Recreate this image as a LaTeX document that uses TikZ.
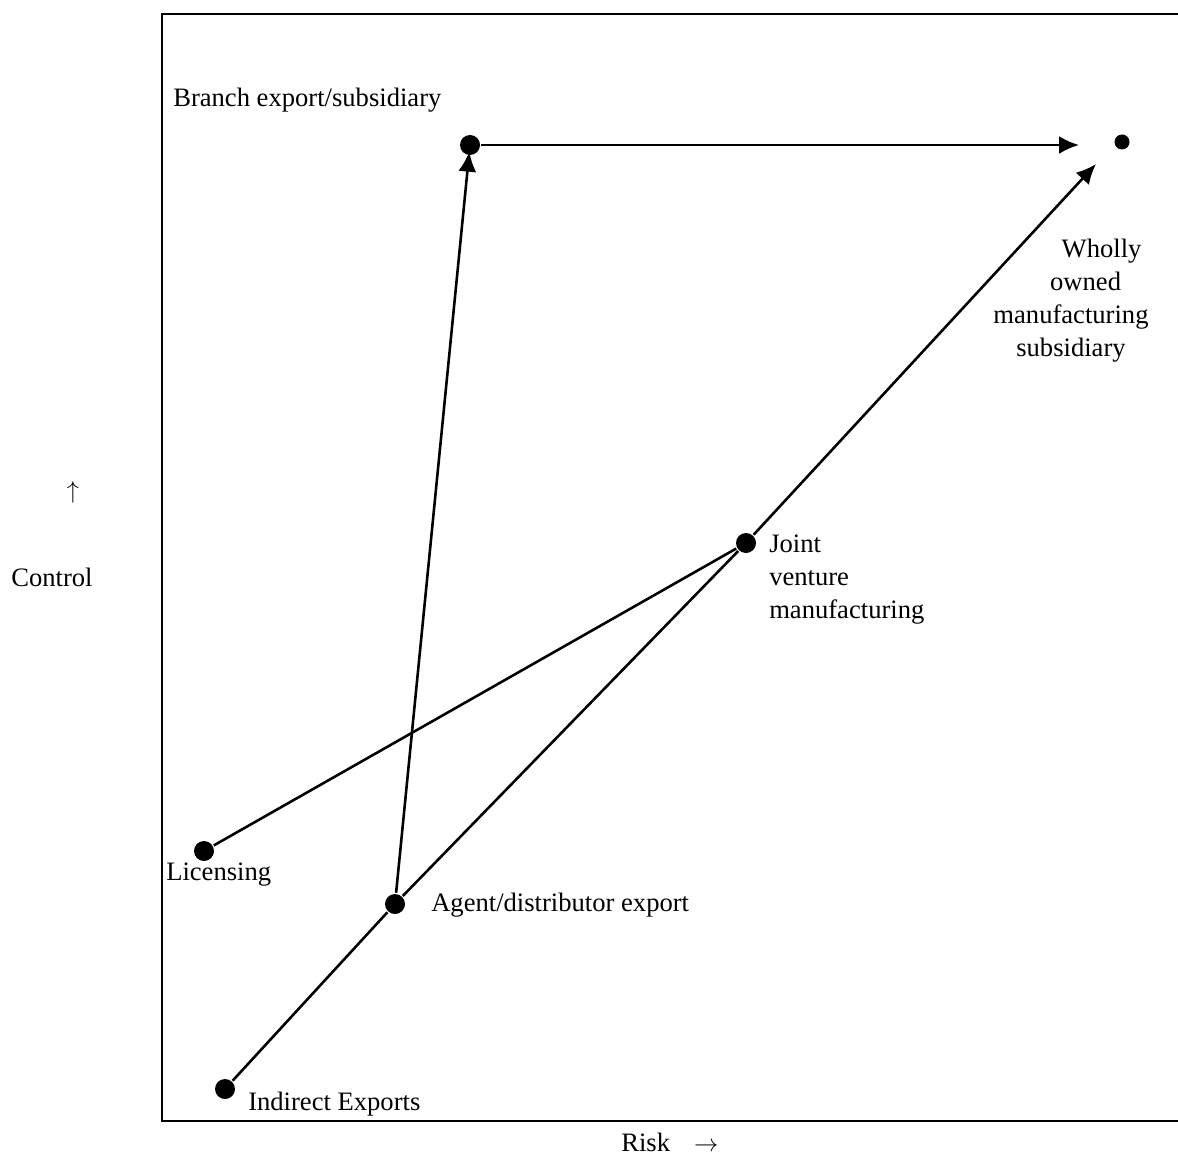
\documentclass[tikz,border=0pt]{standalone}
\usepackage{fontspec}
\setmainfont{Liberation Serif}
\usetikzlibrary{arrows.meta}

\begin{document}
\begin{tikzpicture}[x=0.03cm, y=-0.03cm, >={Latex[length=6mm,width=5.4mm]}, line width=2.2pt,
  dot/.style={circle, fill, inner sep=0pt, minimum size=6mm},
  lbl/.style={inner sep=0pt, font=\fontsize{22.7}{28.2}\selectfont}]
  \useasboundingbox (0,0) rectangle (1178,1157);
  % frame, open to the right
  \draw[line width=2.3pt] (1178,14) -- (162,14) -- (162,1121) -- (1178,1121);

  \node[dot] (branch) at (470,145) {};
  \node[dot, minimum size=4.5mm] (wholly) at (1122,142) {};
  \node[dot] (joint) at (746,543) {};
  \node[dot] (lic) at (204,851) {};
  \node[dot] (agent) at (395,904) {};
  \node[dot] (ind) at (225,1089) {};
  \coordinate (htip) at (1079,145);
  \coordinate (dtip) at (1096,164);

  \draw[->] (branch) -- (htip);
  \draw[->, shorten >=0.2cm] (agent) -- (branch.center);
  \draw (ind) -- (agent) -- (joint);
  \draw[->] (joint) -- (dtip);
  \draw (lic) -- (joint);

  \node[lbl, anchor=base west] (branchlbl) at (172,107) {Branch export/subsidiary};
  \node[lbl, anchor=north, align=center] (whollylbl) at (1071,238) {\hspace*{2.3em}Wholly\\\hspace*{1.1em}owned\\manufacturing\\subsidiary};
  \node[lbl, anchor=north west, align=left] (jointlbl) at (768,534) {Joint\\venture\\manufacturing};
  \node[lbl, anchor=base west] (liclbl) at (165,880) {Licensing};
  \node[lbl, anchor=base west] (agentlbl) at (430,911) {Agent/distributor export};
  \node[lbl, anchor=base west] (indlbl) at (247,1110) {Indirect Exports};
  % axes
  \node[lbl, anchor=base] (ctrl) at (52,586) {Control};
  \node[lbl] (ctrlarrow) at (73,492) {$\uparrow$};
  \node[lbl, anchor=base west] (risk) at (620,1151) {Risk\hspace{0.9em}$\rightarrow$};
\end{tikzpicture}
\end{document}
